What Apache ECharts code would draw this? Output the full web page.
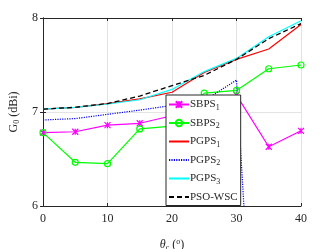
<!DOCTYPE html>
<html><head><meta charset="utf-8">
<script src="https://cdn.jsdelivr.net/npm/echarts@6/dist/echarts.min.js"></script>
<style>html,body{margin:0;padding:0;background:#fff}#c{width:332px;height:249px}</style>
</head><body><div id="c"></div>
<script>
const theta = [0, 5, 10, 15, 20, 25, 30, 35, 40];
const sbps1 = [6.78, 6.79, 6.86, 6.88, 6.96, 7.08, 7.18, 6.63, 6.80];
const sbps2 = [6.78, 6.465, 6.45, 6.82, 6.85, 7.20, 7.23, 7.46, 7.50];
const pgps1 = [7.03, 7.05, 7.09, 7.14, 7.21, 7.42, 7.56, 7.67, 7.93];
const pgps2 = [6.915, 6.93, 6.975, 7.02, 7.07, 7.12, 7.34, 1.5, 1.5];
const pgps3 = [7.03, 7.05, 7.085, 7.13, 7.24, 7.43, 7.57, 7.80, 7.97];
const psowsc = [7.03, 7.05, 7.09, 7.17, 7.28, 7.39, 7.56, 7.78, 7.94];
const xTicks = [0, 10, 20, 30, 40];
const yTicks = [6, 7, 8];

const pair = a => theta.map((t, i) => [t, a[i]]);
const axisCol = '#262626';
const font = '"Liberation Serif", "DejaVu Serif", serif';
const chart = echarts.init(document.getElementById('c'));
const xMark = 'path://M0,0L10,10M10,0L0,10M5,0L5,10';
const noSym = { opacity: 0 };
chart.setOption({
  animation: false,
  backgroundColor: '#fff',
  grid: { left: 43, right: 31, top: 18, bottom: 43, outerBoundsMode: 'none', containLabel: false },
  xAxis: [{
    type: 'value', min: xTicks[0], max: xTicks[xTicks.length - 1], interval: 10,
    axisLine: { lineStyle: { color: axisCol, width: 1 } },
    axisTick: { inside: true, length: 3, lineStyle: { color: axisCol } },
    axisLabel: { color: axisCol, fontFamily: font, fontSize: 12, margin: 7 },
    splitLine: { show: true, lineStyle: { color: '#e3e3e3', width: 1 } },
    name: '{it|θ}{sub|c} ({sup|o})', nameLocation: 'middle', nameGap: 32,
    nameTextStyle: { color: axisCol, fontFamily: font, fontSize: 12,
      rich: { it: { fontStyle: 'italic', fontSize: 12, fontFamily: font, color: axisCol },
              sub: { fontSize: 8, fontFamily: font, color: axisCol, padding: [6, 0, 0, 0] },
              sup: { fontSize: 8, fontFamily: font, color: axisCol, padding: [0, 0, 6, 0] } } }
  }, {
    type: 'value', position: 'top', min: 0, max: 40, interval: 10,
    axisLine: { show: true, lineStyle: { color: axisCol } },
    axisTick: { show: true, inside: true, length: 3, lineStyle: { color: axisCol } },
    axisLabel: { show: false }, splitLine: { show: false }
  }],
  yAxis: [{
    type: 'value', min: yTicks[0], max: yTicks[yTicks.length - 1], interval: 1,
    axisLine: { show: true, lineStyle: { color: axisCol, width: 1 } },
    axisTick: { show: true, inside: true, length: 3, lineStyle: { color: axisCol } },
    axisLabel: { color: axisCol, fontFamily: font, fontSize: 12, margin: 5 },
    splitLine: { show: true, lineStyle: { color: '#e3e3e3', width: 1 } },
    name: 'G{sub|0} (dBi)', nameLocation: 'middle', nameGap: 18,
    nameTextStyle: { color: axisCol, fontFamily: font, fontSize: 12,
      rich: { sub: { fontSize: 8, fontFamily: font, color: axisCol, padding: [6, 0, 0, 0] } } }
  }, {
    type: 'value', position: 'right', min: 6, max: 8, interval: 1,
    axisLine: { show: true, lineStyle: { color: axisCol } },
    axisTick: { show: true, inside: true, length: 3, lineStyle: { color: axisCol } },
    axisLabel: { show: false }, splitLine: { show: false }
  }],
  legend: {
    orient: 'vertical', left: 166, top: 95, width: 74,
    backgroundColor: '#fff', borderColor: axisCol, borderWidth: 1,
    padding: [4, 3, 3, 2], itemWidth: 20, itemHeight: 8, itemGap: 6,
    formatter: n => n.replace(/^(\D+)(\d)$/, '$1{sub|$2}'),
    textStyle: { color: axisCol, fontFamily: font, fontSize: 11, padding: [0, 0, 0, -4],
      rich: { sub: { fontSize: 8, fontFamily: font, color: axisCol, padding: [6, 0, 0, 0] } } },
    data: [
      { name: 'SBPS1' }, { name: 'SBPS2' },
      { name: 'PGPS1', itemStyle: noSym }, { name: 'PGPS2', itemStyle: noSym },
      { name: 'PGPS3', itemStyle: noSym }, { name: 'PSO-WSC', itemStyle: noSym }
    ]
  },
  series: [
    { name: 'SBPS1', type: 'line', data: pair(sbps1), symbol: xMark, symbolSize: 6,
      lineStyle: { color: '#ff00ff', width: 1.2 },
      itemStyle: { color: '#ff00ff', borderColor: '#ff00ff', borderWidth: 1.2 }, z: 3 },
    { name: 'SBPS2', type: 'line', data: pair(sbps2), symbol: 'circle', symbolSize: 6,
      lineStyle: { color: '#00ff00', width: 1.2 },
      itemStyle: { color: 'rgba(0,0,0,0)', borderColor: '#00ff00', borderWidth: 1.2 }, z: 3 },
    { name: 'PGPS1', type: 'line', data: pair(pgps1), showSymbol: false, symbol: 'none',
      lineStyle: { color: '#ff0000', width: 1.2 }, itemStyle: { color: '#ff0000' } },
    { name: 'PGPS2', type: 'line', data: pair(pgps2), showSymbol: false, symbol: 'none', clip: true,
      lineStyle: { color: '#0000ff', width: 1.2, type: [1.2, 1.2] }, itemStyle: { color: '#0000ff' } },
    { name: 'PGPS3', type: 'line', data: pair(pgps3), showSymbol: false, symbol: 'none',
      lineStyle: { color: '#00ffff', width: 1.2 }, itemStyle: { color: '#00ffff' } },
    { name: 'PSO-WSC', type: 'line', data: pair(psowsc), showSymbol: false, symbol: 'none',
      lineStyle: { color: '#000000', width: 1.3, type: [5, 3] }, itemStyle: { color: '#000' } }
  ]
});
</script></body></html>
